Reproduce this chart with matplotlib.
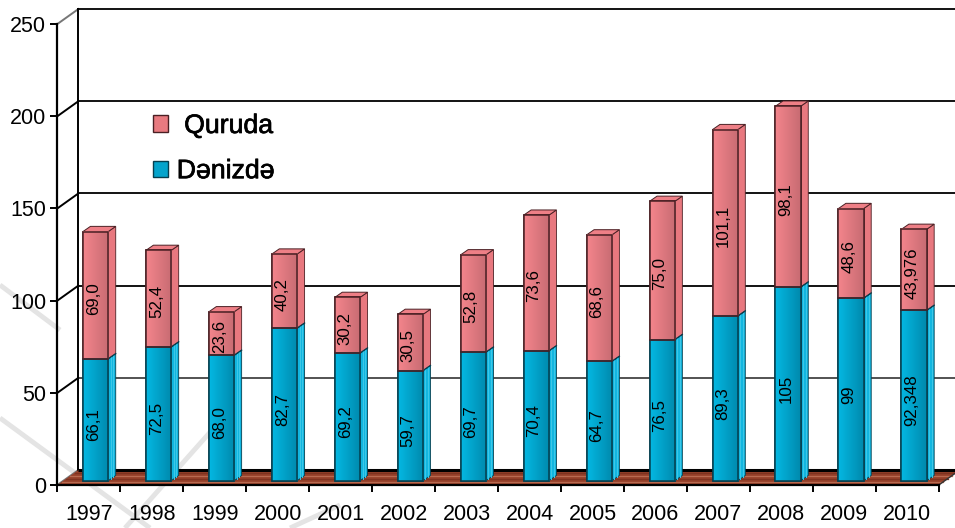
import numpy as np
import matplotlib
matplotlib.use("Agg")
import matplotlib.pyplot as plt
from matplotlib.patches import Polygon, Patch
import matplotlib.patheffects as pe

plt.rcParams['font.family'] = ['Liberation Sans', 'DejaVu Sans']

years = ['1997','1998','1999','2000','2001','2002','2003','2004','2005','2006','2007','2008','2009','2010']
denizde = [66.1,72.5,68.0,82.7,69.2,59.7,69.7,70.4,64.7,76.5,89.3,105,99,92.348]
quruda = [69.0,52.4,23.6,40.2,30.2,30.5,52.8,73.6,68.6,75.0,101.1,98.1,48.6,43.976]
denizde_labels = ['66,1','72,5','68,0','82,7','69,2','59,7','69,7','70,4','64,7','76,5','89,3','105','99','92,348']
quruda_labels = ['69,0','52,4','23,6','40,2','30,2','30,5','52,8','73,6','68,6','75,0','101,1','98,1','48,6','43,976']
yticks = [0,50,100,150,200,250]

W, H = 955, 528
fig = plt.figure(figsize=(W/100, H/100), dpi=100)
L, R, T, B = 57.4, 938.8, 24.0, 485.0
ax = fig.add_axes([L/W, 1-B/H, (R-L)/W, (B-T)/H])
ax.set_xlim(-0.5, 13.5)
ax.set_ylim(0, 250)
ax.patch.set_alpha(0)
PX = (R-L)/14
PY = (B-T)/250
def fx(p): return p/PX
def fy(p): return p/PY

# background watermark strokes
bg = fig.add_axes([0,0,1,1], zorder=-1)
bg.set_xlim(0,W); bg.set_ylim(H,0); bg.axis('off')
for seg in [((0,418),(150,528)),((212,430),(125,528)),((0,285),(60,330)),((340,505),(290,528))]:
    bg.plot(*zip(*seg), color='#e4e4e4', lw=3.5, solid_capstyle='butt')

dxb, dyb = fx(21), fy(15)      # back wall offset
xl, xr = -0.5, 13.5

# floor
ax.add_patch(Polygon([(xl,0),(xl+dxb,dyb),(xr+dxb,dyb),(xr,0)], closed=True, fc='#96402a', ec='none', clip_on=False, zorder=1))
for f,c in [(0.2,'#b86a50'),(0.42,'#7e3320'),(0.62,'#b86a50'),(0.82,'#7e3320')]:
    ax.plot([xl+dxb*f, xr+dxb*f],[dyb*f,dyb*f], color=c, lw=0.9, clip_on=False, zorder=1.1)
ax.plot([xl+dxb, xr+dxb],[dyb,dyb], color='black', lw=2.2, clip_on=False, zorder=1.2, solid_capstyle='butt')
ax.plot([xr, xr+dxb],[0,dyb], color='#333333', lw=1, clip_on=False, zorder=1.2)

# back wall
for v in yticks:
    col = '#777777' if v in (0,250) else 'black'
    ax.plot([xl, xl+dxb],[v, v+dyb], color=col, lw=1.4, clip_on=False, zorder=0.8)
    if v > 0:
        ax.plot([xl+dxb, xr+dxb],[v+dyb,v+dyb], color='black' if v>50 else '#444444', lw=1.3, clip_on=False, zorder=0.8)
ax.plot([xl+dxb, xl+dxb],[dyb,250+dyb], color='black', lw=1.4, clip_on=False, zorder=0.8)

# bars
x = np.arange(14) + fx(6.7)
bw = fx(25.3)
base = fy(4.3)
ddx, ddy = fx(7.5), fy(5.2)
d = np.array(denizde); q = np.array(quruda)
edge_b, edge_q = '#053f4f', '#4a2024'

def gradient(c0, c1):
    t = np.linspace(0,1,64)[None,:,None]
    return np.array(matplotlib.colors.to_rgb(c0))[None,None,:]*(1-t)+np.array(matplotlib.colors.to_rgb(c1))[None,None,:]*t

grad_b = gradient('#04b8e2', '#0089ad')
grad_q = gradient('#f4858c', '#c76b72')

def face(bar, grad, z):
    bb = bar
    ext = (bb.get_x(), bb.get_x()+bb.get_width(), bb.get_y(), bb.get_y()+bb.get_height())
    im = ax.imshow(grad, extent=ext, aspect='auto', zorder=z, clip_on=False, interpolation='bilinear')
    return im

bars_b = ax.bar(x, d, width=bw, bottom=base, color='#00a8d4', edgecolor=edge_b, lw=1.1, zorder=3, clip_on=False, label='Dənizdə')
bars_q = ax.bar(x, q, width=bw, bottom=base+d, color='#e87a80', edgecolor=edge_q, lw=1.1, zorder=3, clip_on=False, label='Quruda')

for i,(xi,di,qi) in enumerate(zip(x,d,q)):
    x0, x1 = xi-bw/2, xi+bw/2
    y0, y1, y2 = base, base+di, base+di+qi
    ax.add_patch(Polygon([(x1,y0),(x1+ddx,y0+ddy),(x1+ddx,y1+ddy),(x1,y1)], closed=True, fc='#12b6e0', ec=edge_b, lw=0.6, zorder=2.5, clip_on=False))
    for f in (0.33,0.66):
        ax.plot([x1+ddx*f]*2,[y0+ddy*f,y1+ddy*f], color='#3fc8e8', lw=0.7, zorder=2.6, clip_on=False)
    ax.add_patch(Polygon([(x1,y1),(x1+ddx,y1+ddy),(x1+ddx,y2+ddy),(x1,y2)], closed=True, fc='#e8787f', ec=edge_q, lw=0.6, zorder=2.5, clip_on=False))
    ax.add_patch(Polygon([(x0,y2),(x0+ddx,y2+ddy),(x1+ddx,y2+ddy),(x1,y2)], closed=True, fc='#ee7f86', ec=edge_q, lw=0.7, zorder=2.5, clip_on=False))
    ax.plot([x1,x1+ddx],[y1,y1+ddy], color=edge_b, lw=0.9, zorder=2.7, clip_on=False)
    ax.text(xi-fx(2.2), y0+di/2-fy(5), denizde_labels[i], rotation=90, ha='center', va='center', fontsize=12.2, color='black', zorder=6)
    ax.text(xi-fx(2.2), y1+qi/2-fy(3), quruda_labels[i], rotation=90, ha='center', va='center', fontsize=12.2, color='black', zorder=6)

for b in bars_b: face(b, grad_b, 3.5)
for b in bars_q: face(b, grad_q, 3.5)
# re-stroke outlines above gradient
for bars, e in ((bars_b, edge_b),(bars_q, edge_q)):
    for b in bars:
        ax.add_patch(plt.Rectangle((b.get_x(),b.get_y()), b.get_width(), b.get_height(), fc='none', ec=e, lw=1.1, zorder=3.8, clip_on=False))
ax.set_xlim(-0.5, 13.5); ax.set_ylim(0, 250)

# axes
ax.spines['top'].set_visible(False)
ax.spines['right'].set_visible(False)
for s in ('left','bottom'):
    ax.spines[s].set_linewidth(1.6)
    ax.spines[s].set_zorder(5)
ax.set_yticks(yticks)
ax.tick_params(axis='y', length=5, width=1.4, pad=3, labelsize=15.5)
ax.set_xticks(np.arange(14))
ax.set_xticklabels(years)
ax.tick_params(axis='x', which='major', length=0, pad=14, labelsize=15.5)
ax.set_xticks(np.arange(15)-0.5, minor=True)
ax.tick_params(axis='x', which='minor', length=5, width=1.4)

# legend
h = [Patch(fc='#e87a80', ec=edge_q, lw=1, label=' Quruda'), Patch(fc='#04a4cc', ec=edge_b, lw=1, label='Dənizdə')]
leg = ax.legend(handles=h, loc='upper left', bbox_to_anchor=((153-L)/(R-L)-0.0, 1-(113-T)/(B-T)), borderaxespad=0, borderpad=0,
                frameon=False, fontsize=19.2, handlelength=0.56, handleheight=0.56, handletextpad=0.33, labelspacing=0.72)
for t in leg.get_texts():
    t.set_path_effects([pe.withStroke(linewidth=0.5, foreground='black')])

fig.savefig('out.png', dpi=100)
